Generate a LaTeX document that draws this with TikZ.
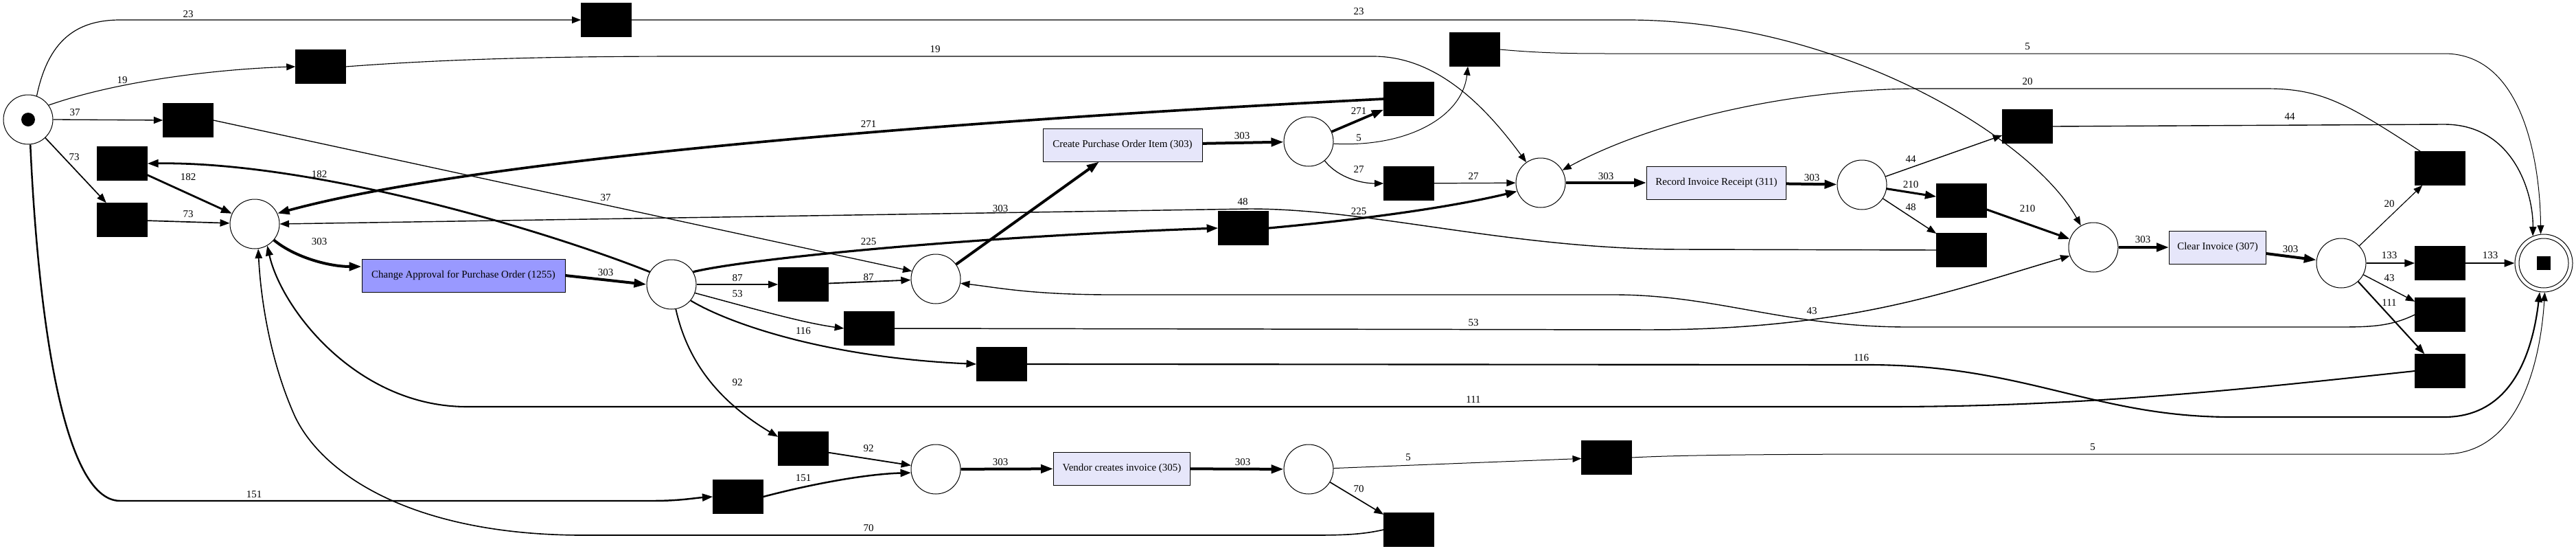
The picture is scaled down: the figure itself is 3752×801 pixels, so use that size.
\documentclass[tikz,border=0pt]{standalone}
\usepackage{fontspec}
\setmainfont{Liberation Serif}
\usetikzlibrary{arrows.meta}
\newcommand{\nfont}{\fontsize{15pt}{18pt}\selectfont}
\definecolor{caBlue}{RGB}{153,153,255}
\definecolor{actLight}{RGB}{230,230,250}
\tikzset{
 plc/.style={circle, draw=black, line width=1pt, fill=white, minimum size=72pt, inner sep=0pt},
 sil/.style={rectangle, fill=black, draw=black, line width=0.5pt, minimum width=73pt, minimum height=49pt, inner sep=0pt},
 actbox/.style={rectangle, draw=black, line width=1pt, minimum height=48pt, inner sep=0pt, font=\nfont},
 elbl/.style={inner sep=0pt, font=\nfont},
 edg/.style={line width=#1, -{Triangle[length=11pt 1.75, width=9pt 0.8]}},
}
\begin{document}
\begin{tikzpicture}[x=1pt, y=-1pt]
\useasboundingbox (0,0) rectangle (3752,801);
% places
\node[plc] (S) at (41,174) {};
\fill (S.center) circle[radius=10pt];
\node[plc] (P1) at (371,326) {};
\node[plc] (P2) at (978,414) {};
\node[plc] (P3) at (1363,406) {};
\node[plc] (Pv) at (1363,683) {};
\node[plc] (P4) at (1906,206) {};
\node[plc] (P7) at (1906,683) {};
\node[plc] (Prec) at (2244,266) {};
\node[plc] (P5) at (2712,269) {};
\node[plc] (Pcl) at (3049,360) {};
\node[plc] (P6) at (3410,383) {};
\node[plc, minimum size=84pt] (End) at (3705,383) {};
\draw[line width=1pt] (End.center) circle[radius=36pt];
\fill (3695,373) rectangle (3715,393);
% silent transitions
\node[sil] (T23) at (883,29) {};
\node[sil] (T19) at (467,97) {};
\node[sil] (T37) at (274,175) {};
\node[sil] (T182) at (178,238) {};
\node[sil] (T73) at (178,320) {};
\node[sil] (T87) at (1170,414) {};
\node[sil] (T53) at (1266,478) {};
\node[sil] (T116) at (1459,530) {};
\node[sil] (T92) at (1170,653) {};
\node[sil] (T151) at (1075,723) {};
\node[sil] (T225) at (1811,332) {};
\node[sil] (T271) at (2052,144) {};
\node[sil] (T5a) at (2148,72) {};
\node[sil] (T27) at (2052,267) {};
\node[sil] (T44) at (2953,184) {};
\node[sil] (T210) at (2857,292) {};
\node[sil] (T48) at (2857,364) {};
\node[sil] (T20) at (3554,245) {};
\node[sil] (T133) at (3554,383) {};
\node[sil] (T43) at (3554,458) {};
\node[sil] (T111) at (3554,540) {};
\node[sil] (T5b) at (2340,666) {};
\node[sil] (T70) at (2052,771) {};
% activities
\node[actbox, fill=caBlue, minimum width=296pt] (CA) at (675,401) {Change Approval for Purchase Order (1255)};
\node[actbox, fill=actLight, minimum width=232pt] (CPOI) at (1635,211) {Create Purchase Order Item (303)};
\node[actbox, fill=actLight, minimum width=199pt] (VCI) at (1634,682) {Vendor creates invoice (305)};
\node[actbox, fill=actLight, minimum width=203pt] (RIR) at (2500,266) {Record Invoice Receipt (311)};
\node[actbox, fill=actLight, minimum width=141pt] (CI) at (3230,360) {Clear Invoice (307)};
% arcs
\draw[edg=1.18pt] (S.70) .. controls (70,60) and (110,29) .. (175,29) -- (T23.west);
\draw[edg=1.18pt] (T23.east) -- (2370,29) .. controls (2680,29) and (2960,200) .. (Pcl.120);
\draw[edg=1.14pt] (S.35) .. controls (180,115) and (330,100) .. (T19.west);
\draw[edg=1.14pt] (T19.east) .. controls (650,86) and (800,82) .. (1000,82) -- (2000,82) .. controls (2090,82) and (2160,150) .. (Prec.125);
\draw[edg=1.32pt] (S.east) -- (T37.west);
\draw[edg=1.32pt] (T37.east) -- (P3.162);
\draw[edg=1.68pt] (S) -- (T73);
\draw[edg=1.68pt] (T73) -- (P1);
\draw[edg=2.47pt] (S.-85) .. controls (55,450) and (90,729) .. (175,729) -- (950,729) .. controls (990,729) and (1010,725) .. (T151.west);
\draw[edg=2.47pt] (T151.east) .. controls (1180,705) and (1260,690) .. (Pv.188);
\draw[edg=4pt] (P1.-40) .. controls (430,375) and (480,388) .. (CA.175);
\draw[edg=4pt] (CA.east) -- (P2.west);
\draw[edg=2.78pt] (P2.150) .. controls (780,330) and (450,235) .. (T182.east);
\draw[edg=2.78pt] (T182) -- (P1);
\draw[edg=1.83pt] (P2) -- (T87);
\draw[edg=1.83pt] (T87) -- (P3);
\draw[edg=1.48pt] (P2.-20) .. controls (1100,450) and (1170,470) .. (T53.west);
\draw[edg=1.48pt] (T53.east) -- (2400,480) .. controls (2700,480) and (2850,420) .. (Pcl.200);
\draw[edg=2.12pt] (P2.-40) .. controls (1060,470) and (1200,520) .. (T116.west);
\draw[edg=2.12pt] (T116.east) -- (2720,531) .. controls (2950,531) and (3050,607) .. (3250,607) -- (3560,607) .. controls (3655,607) and (3688,520) .. (End.-98);
\draw[edg=1.88pt] (P2.-80) .. controls (1000,520) and (1040,580) .. (T92.155);
\draw[edg=1.88pt] (T92) -- (Pv);
\draw[edg=3.21pt] (P2.30) .. controls (1080,378) and (1400,345) .. (T225.west);
\draw[edg=3.21pt] (T225.east) .. controls (2000,318) and (2120,300) .. (Prec.200);
\draw[edg=4pt] (P3) -- (CPOI);
\draw[edg=4pt] (CPOI) -- (P4);
\draw[edg=3.68pt] (P4) -- (T271);
\draw[edg=3.68pt] (T271.west) .. controls (1400,175) and (700,230) .. (P1.25);
\draw[edg=1pt] (P4.-5) .. controls (2050,215) and (2130,170) .. ([xshift=-10pt]T5a.south);
\draw[edg=1pt] (T5a.east) .. controls (2250,78) and (2300,78) .. (2350,78) -- (3560,78) .. controls (3680,78) and (3700,250) .. (End.96);
\draw[edg=1.22pt] (P4.-50) .. controls (1950,260) and (1985,267) .. (T27.west);
\draw[edg=1.22pt] (T27) -- (Prec);
\draw[edg=4pt] (Prec) -- (RIR);
\draw[edg=4pt] (RIR) -- (P5);
\draw[edg=1.39pt] (P5) -- (T44);
\draw[edg=1.39pt] (T44.east) -- (3560,181) .. controls (3660,181) and (3690,280) .. (End.112);
\draw[edg=3.06pt] (P5) -- (T210);
\draw[edg=3.06pt] (T210) -- (Pcl);
\draw[edg=1.43pt] (P5) -- (T48);
\draw[edg=1.43pt] (T48.west) -- (2450,363) .. controls (2200,363) and (2000,304) .. (1820,304) -- (P1.east);
\draw[edg=4pt] (Pcl) -- (CI);
\draw[edg=4pt] (CI) -- (P6);
\draw[edg=1.15pt] (P6) -- (T20);
\draw[edg=1.15pt] ([xshift=8pt]T20.north west) .. controls (3416,149) and (3380,129) .. (3300,129) -- (2800,129) .. controls (2600,129) and (2400,180) .. (Prec.30);
\draw[edg=2.29pt] (P6) -- (T133);
\draw[edg=2.29pt] (T133) -- (End);
\draw[edg=1.38pt] (P6) -- (T43);
\draw[edg=1.38pt] (T43.west) .. controls (3480,476) and (3450,476) .. (3400,476) -- (2780,476) .. controls (2600,476) and (2500,429) .. (2350,429) -- (1620,429) .. controls (1500,429) and (1450,418) .. (P3.-10);
\draw[edg=2.07pt] (P6) -- (T111);
\draw[edg=2.07pt] (T111.west) .. controls (3300,563) and (3050,592) .. (2750,592) -- (680,592) .. controls (520,592) and (410,450) .. (P1.-60);
\draw[edg=4pt] (Pv) -- (VCI);
\draw[edg=4pt] (VCI) -- (P7);
\draw[edg=1pt] (P7) -- (T5b);
\draw[edg=1pt] (T5b.east) .. controls (2450,662) and (2600,661) .. (2800,661) -- (3560,661) .. controls (3680,661) and (3702,500) .. (End.-88);
\draw[edg=1.65pt] (P7) -- (T70);
\draw[edg=1.65pt] (T70.west) .. controls (1980,779) and (1950,779) .. (1900,779) -- (850,779) .. controls (600,779) and (470,690) .. (430,607) .. controls (395,530) and (380,440) .. (P1.-82);
% arc labels
\node[elbl] (l01) at (274,21) {23};
\node[elbl] (l02) at (1979,17) {23};
\node[elbl] (l03) at (178,117) {19};
\node[elbl] (l04) at (1362,72) {19};
\node[elbl] (l05) at (109,164) {37};
\node[elbl] (l06) at (882,288) {37};
\node[elbl] (l07) at (108,229) {73};
\node[elbl] (l08) at (274,312) {73};
\node[elbl] (l09) at (370,720) {151};
\node[elbl] (l10) at (1170,696) {151};
\node[elbl] (l11) at (465,352) {303};
\node[elbl] (l12) at (882,397) {303};
\node[elbl] (l13) at (465,254) {182};
\node[elbl] (l14) at (274,258) {182};
\node[elbl] (l15) at (1074,405) {87};
\node[elbl] (l16) at (1265,404) {87};
\node[elbl] (l17) at (1074,428) {53};
\node[elbl] (l18) at (2146,470) {53};
\node[elbl] (l19) at (1170,482) {116};
\node[elbl] (l20) at (2711,521) {116};
\node[elbl] (l21) at (1074,557) {92};
\node[elbl] (l22) at (1265,653) {92};
\node[elbl] (l23) at (1265,352) {225};
\node[elbl] (l24) at (1979,308) {225};
\node[elbl] (l25) at (1457,304) {303};
\node[elbl] (l26) at (1809,198) {303};
\node[elbl] (l27) at (1979,162) {271};
\node[elbl] (l28) at (1265,181) {271};
\node[elbl] (l29) at (1979,201) {5};
\node[elbl] (l30) at (2953,68) {5};
\node[elbl] (l31) at (1979,247) {27};
\node[elbl] (l32) at (2146,257) {27};
\node[elbl] (l33) at (2339,257) {303};
\node[elbl] (l34) at (2639,259) {303};
\node[elbl] (l35) at (2783,232) {44};
\node[elbl] (l36) at (3335,170) {44};
\node[elbl] (l37) at (2783,269) {210};
\node[elbl] (l38) at (2953,304) {210};
\node[elbl] (l39) at (2783,302) {48};
\node[elbl] (l40) at (1810,294) {48};
\node[elbl] (l41) at (3121,349) {303};
\node[elbl] (l42) at (3336,363) {303};
\node[elbl] (l43) at (3480,297) {20};
\node[elbl] (l44) at (2953,119) {20};
\node[elbl] (l45) at (3480,372) {133};
\node[elbl] (l46) at (3627,372) {133};
\node[elbl] (l47) at (3480,405) {43};
\node[elbl] (l48) at (2639,453) {43};
\node[elbl] (l49) at (3480,441) {111};
\node[elbl] (l50) at (2146,582) {111};
\node[elbl] (l51) at (1457,673) {303};
\node[elbl] (l52) at (1810,673) {303};
\node[elbl] (l53) at (2051,666) {5};
\node[elbl] (l54) at (3048,651) {5};
\node[elbl] (l55) at (1979,712) {70};
\node[elbl] (l56) at (1265,769) {70};
\end{tikzpicture}
\end{document}
